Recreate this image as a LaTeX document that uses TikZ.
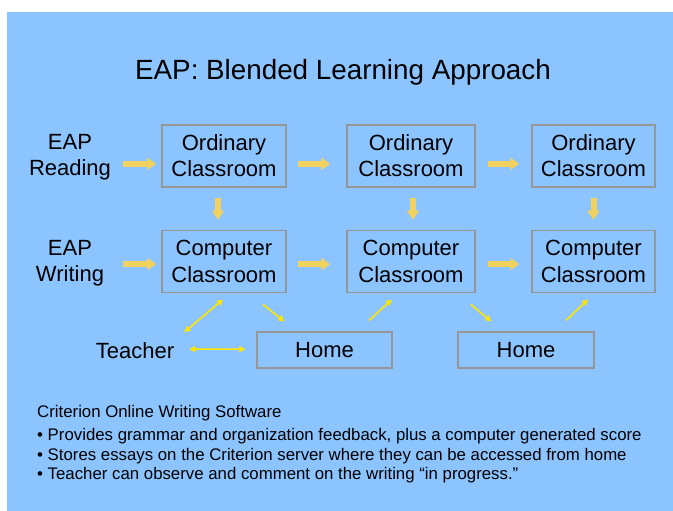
\documentclass[tikz,border=0pt]{standalone}
\usepackage{fontspec}
\setmainfont{Liberation Sans}
\usetikzlibrary{arrows.meta,calc}
\definecolor{bgblue}{RGB}{140,196,255}
\definecolor{boxgray}{RGB}{150,150,150}
\definecolor{bigyellow}{RGB}{242,210,95}
\definecolor{thinyellow}{RGB}{255,230,0}
\begin{document}
\begin{tikzpicture}[x=1pt,y=-1pt,
  classbox/.style={draw=boxgray, line width=1.5pt, minimum width=124pt, minimum height=62pt,
    inner sep=0pt, align=center, font=\fontsize{22}{26.5}\selectfont},
  homebox/.style={draw=boxgray, line width=1.5pt, minimum width=135pt, minimum height=36pt,
    inner sep=0pt, font=\fontsize{22}{26.5}\selectfont},
  lbl/.style={inner sep=0pt, align=center, font=\fontsize{22}{26}\selectfont},
  bodytext/.style={inner sep=0pt, anchor=base west, font=\fontsize{16.8}{21}\selectfont},
  bigarrow/.style={draw=bigyellow, line width=6pt, -{Triangle[length=9pt,width=12pt]}},
  thinarrow/.style={draw=thinyellow, line width=1.6pt, -{Triangle[length=6pt,width=6pt]}},
  thinboth/.style={draw=thinyellow, line width=1.6pt, {Triangle[length=6pt,width=6pt]}-{Triangle[length=6pt,width=6pt]}}
]
\useasboundingbox (0,0) rectangle (673,511);
\fill[white] (0,0) rectangle (673,511);
\fill[bgblue] (7,12) rectangle (673,511);

\node[anchor=base, inner sep=0pt, font=\fontsize{27.8}{32}\selectfont] (title) at (343,79.3) {EAP: Blended Learning Approach};

% boxes
\node[classbox] (o1) at (224,155.8) {Ordinary\\Classroom};
\node[classbox, minimum width=128pt] (o2) at (411,155.8) {Ordinary\\Classroom};
\node[classbox, minimum width=123pt] (o3) at (593.5,155.8) {Ordinary\\Classroom};
\node[classbox] (c1) at (224,261.4) {Computer\\Classroom};
\node[classbox, minimum width=128pt] (c2) at (411,261.4) {Computer\\Classroom};
\node[classbox, minimum width=123pt] (c3) at (593.5,261.4) {Computer\\Classroom};
\node[homebox] (h1) at (324.5,350.2) {Home};
\node[homebox, minimum width=136pt] (h2) at (526,350.2) {Home};

% labels
\node[lbl] (rlbl) at (70,157.3) {EAP\\Reading};
\node[lbl] (wlbl) at (70,262.8) {EAP\\Writing};
\node[lbl, anchor=base] (teacher) at (135,358) {Teacher};

% thick arrows
\draw[bigarrow] ($(rlbl.east |- o1.west)+(12,8)$) -- ($(o1.west)+(-5,8)$);
\draw[bigarrow] ($(o1.east)+(11,8)$) -- ($(o2.west)+(-16,8)$);
\draw[bigarrow] ($(o2.east)+(12,8)$) -- ($(o3.west)+(-12,8)$);
\draw[bigarrow] ($(rlbl.east |- c1.west)+(12,2.7)$) -- ($(c1.west)+(-5,2.7)$);
\draw[bigarrow] ($(c1.east)+(11,2.7)$) -- ($(c2.west)+(-16,2.7)$);
\draw[bigarrow] ($(c2.east)+(12,2.7)$) -- ($(c3.west)+(-12,2.7)$);
\draw[bigarrow] ($(o1.south)+(-6,10)$) -- ($(c1.north)+(-6,-10)$);
\draw[bigarrow] ($(o2.south)+(2,10)$) -- ($(c2.north)+(2,-10)$);
\draw[bigarrow] ($(o3.south)+(0,10)$) -- ($(c3.north)+(0,-10)$);

% thin arrows
\draw[thinboth] ($(teacher.east)+(10,-18)$) -- ($(c1.south)+(-1,6.3)$);
\draw[thinboth] ($(teacher.east)+(15,-1)$) -- ($(h1.west)+(-11,-1)$);
\draw[thinarrow] ($(c1.south)+(39,11.3)$) -- ($(h1.north west)+(28,-10)$);
\draw[thinarrow] ($(h1.north)+(44.5,-11)$) -- ($(c2.south)+(-19,6.3)$);
\draw[thinarrow] ($(c2.south east)+(-5,11.3)$) -- ($(h2.north west)+(34,-10)$);
\draw[thinarrow] ($(h2.north)+(40,-11)$) -- ($(c3.south)+(-5.5,6.3)$);

% bottom text
\node[bodytext] (crit) at (37,417) {Criterion Online Writing Software};
\node[bodytext] (b1) at (37,440) {• Provides grammar and organization feedback, plus a computer generated score};
\node[bodytext] (b2) at (37,460) {• Stores essays on the Criterion server where they can be accessed from home};
\node[bodytext] (b3) at (37,479.5) {• Teacher can observe and comment on the writing “in progress.”};
\end{tikzpicture}
\end{document}
